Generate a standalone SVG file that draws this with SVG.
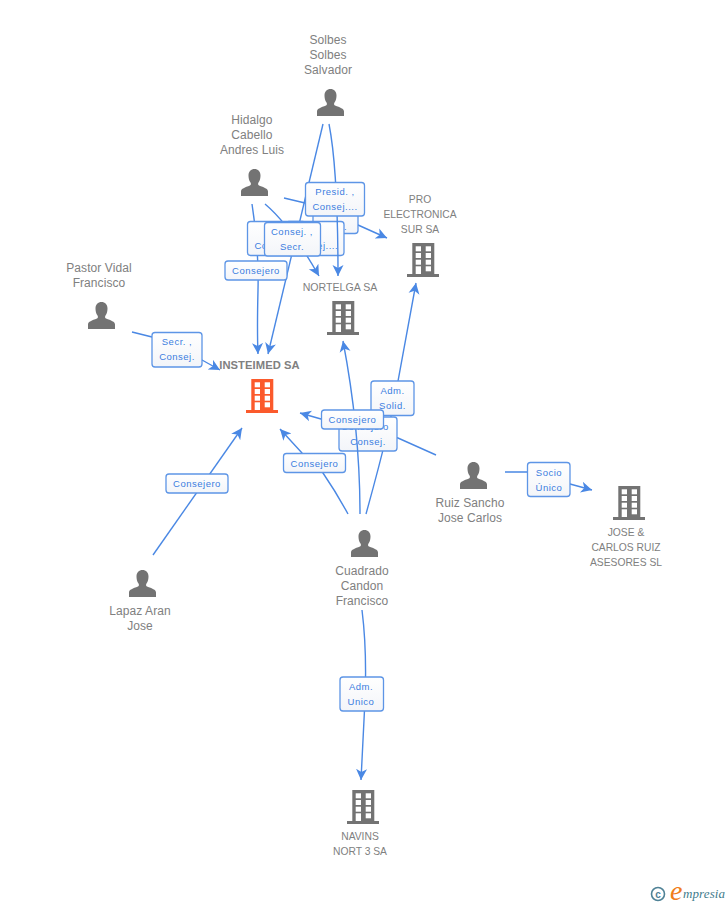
<svg xmlns="http://www.w3.org/2000/svg" width="728" height="905" viewBox="0 0 728 905">
<style>
text{font-family:"Liberation Sans",Arial,sans-serif}
.n{font-size:12px;fill:#808080;text-anchor:middle;letter-spacing:.08px}
.c{font-size:10.3px;fill:#808080;text-anchor:middle}
.l{font-size:9.5px;fill:#3b7de0;text-anchor:middle;letter-spacing:.5px}
.b{fill:url(#lg);stroke:#5d95e6;stroke-width:1.3}
.e{fill:none;stroke:#4a88e4;stroke-width:1.4;marker-end:url(#a)}
.g{fill:#737373}
.o{fill:#fb5a2c}
</style>
<defs>
<linearGradient id="lg" x1="0" y1="0" x2="0" y2="1"><stop offset="0" stop-color="#fff"/><stop offset="1" stop-color="#f3f5f9"/></linearGradient>
<marker id="a" markerUnits="userSpaceOnUse" markerWidth="14" markerHeight="14" refX="11" refY="6" orient="auto"><path d="M11,6 L0,0.500 L3,6 L0,11.500 Z" fill="#4a88e4"/></marker>
<symbol id="p" width="27" height="27" viewBox="0 0 27 27" overflow="visible"><path d="M0,27 V22.500 C0,19.500 4,18.500 9,16.500 C10.300,15.800 10,14.500 9.500,13.500 C8,11.500 7.500,9 7.500,6.500 C7.500,2.500 10,0 13.500,0 C17,0 19.500,2.500 19.500,6.500 C19.500,9 19,11.500 17.500,13.500 C17,14.500 16.700,15.800 18,16.500 C23,18.500 27,19.500 27,22.500 V27 Z"/></symbol>
<symbol id="h" width="32" height="34" viewBox="0 0 32 34" overflow="visible"><path d="M5.300,0 H27.300 V31 H32 V34 H0 V31 H5.300 Z"/><g fill="#fff"><rect x="8.700" y="3.300" width="5.300" height="5"/><rect x="18.700" y="3.300" width="5.300" height="5"/><rect x="8.700" y="10" width="5.300" height="5"/><rect x="18.700" y="10" width="5.300" height="5"/><rect x="8.700" y="16.700" width="5.300" height="5"/><rect x="18.700" y="16.700" width="5.300" height="5"/><rect x="8.700" y="23.300" width="5.300" height="7.700"/><rect x="18.700" y="23.300" width="5.300" height="5"/></g></symbol>
</defs>
<rect width="728" height="905" fill="#fff"/>
<g id="connectors">
<path class="e" d="M323,124 L268,354"/>
<path class="e" d="M284,198 L305,203 L358,225 L387,238"/>
<g><rect class="b" x="313" y="200" width="45" height="33.500" rx="3"/><text class="l" x="335" y="230">Secr.</text></g>
<path class="e" d="M252,204 Q259,250 258,290 T258,354"/>
<path class="e" d="M265,204 Q290,225 319,276"/>
<g><rect class="b" x="247.500" y="221.500" width="58" height="34" rx="3"/><text class="l" x="277" y="249">Consej....</text></g>
<g><rect class="b" x="286" y="221.500" width="58" height="34" rx="3"/><text class="l" x="315.500" y="249">Consej....</text></g>
<path class="e" d="M329,124 Q338,170 338,276"/>
<g><rect class="b" x="305.500" y="182.500" width="59" height="33.500" rx="3"/><text class="l" x="335" y="195">Presid. ,</text><text class="l" x="335" y="210">Consej....</text></g>
<g><rect class="b" x="264.500" y="222.500" width="56" height="33.500" rx="3"/><text class="l" x="292" y="235">Consej. ,</text><text class="l" x="292" y="250">Secr.</text></g>
<g><rect class="b" x="225" y="261" width="62" height="19" rx="3"/><text class="l" x="256" y="274">Consejero</text></g>
<path class="e" d="M132,332 L152,337 L202,360 L220,370"/>
<g><rect class="b" x="152" y="332.500" width="50" height="34.500" rx="3"/><text class="l" x="177" y="345">Secr. ,</text><text class="l" x="177" y="360">Consej.</text></g>
<path class="e" d="M366,514 Q392,420 398,381 L416,283"/>
<path class="e" d="M436,455 L398,438 L321,419 L300,413"/>
<g><rect class="b" x="371" y="381" width="43" height="34.500" rx="3"/><text class="l" x="392.500" y="394">Adm.</text><text class="l" x="392.500" y="409">Solid.</text></g>
<g><rect class="b" x="339" y="417" width="58" height="34" rx="3"/><text class="l" x="365" y="430">Consejero</text><text class="l" x="368" y="445">Consej.</text></g>
<path class="e" d="M360,514 Q360,430 343,341"/>
<g><rect class="b" x="321.500" y="410" width="62" height="19" rx="3"/><text class="l" x="352.500" y="423">Consejero</text></g>
<path class="e" d="M348,514 Q336,492 323,473 L302,453 L280,429"/>
<g><rect class="b" x="283.500" y="453.500" width="62" height="19" rx="3"/><text class="l" x="314.500" y="467">Consejero</text></g>
<path class="e" d="M153,555 L242,428"/>
<g><rect class="b" x="166" y="474" width="62" height="19" rx="3"/><text class="l" x="197" y="487">Consejero</text></g>
<path class="e" d="M362,610 Q367,650 365,700 L361,780"/>
<g><rect class="b" x="340" y="677" width="43.500" height="34" rx="3"/><text class="l" x="361" y="690">Adm.</text><text class="l" x="361" y="705">Unico</text></g>
<path class="e" d="M505,472 H528 L570,484 L592,490"/>
<g><rect class="b" x="527.500" y="462.500" width="42.500" height="34" rx="3"/><text class="l" x="549" y="476">Socio</text><text class="l" x="549" y="491">Único</text></g>
</g>
<g id="n-solbes"><text class="n" x="328" y="44">Solbes</text><text class="n" x="328" y="59">Solbes</text><text class="n" x="328" y="74">Salvador</text><use href="#p" class="g" x="317" y="89"/></g>
<g id="n-hidalgo"><text class="n" x="252" y="124">Hidalgo</text><text class="n" x="252" y="139">Cabello</text><text class="n" x="252" y="154">Andres Luis</text><use href="#p" class="g" x="241" y="169"/></g>
<g id="n-pastor"><text class="n" x="99" y="272">Pastor Vidal</text><text class="n" x="99" y="287">Francisco</text><use href="#p" class="g" x="88" y="302"/></g>
<g id="n-pro"><text class="c" x="420" y="203">PRO</text><text class="c" x="420" y="218">ELECTRONICA</text><text class="c" x="420" y="233">SUR SA</text><use href="#h" class="g" x="407" y="243"/></g>
<g id="n-nortelga"><text class="c" x="340" y="291" style="font-size:10.600px">NORTELGA SA</text><use href="#h" class="g" x="327" y="301"/></g>
<g id="n-insteimed"><text class="n" x="259.500" y="369" font-weight="bold" style="font-size:11.200px">INSTEIMED SA</text><use href="#h" class="o" x="246" y="379"/></g>
<g id="n-ruiz"><text class="n" x="470" y="507">Ruiz Sancho</text><text class="n" x="470" y="522">Jose Carlos</text><use href="#p" class="g" x="460" y="462"/></g>
<g id="n-jose"><text class="c" x="626" y="536">JOSE &amp;</text><text class="c" x="626" y="551">CARLOS RUIZ</text><text class="c" x="626" y="566">ASESORES SL</text><use href="#h" class="g" x="613" y="486"/></g>
<g id="n-cuadrado"><text class="n" x="362" y="575">Cuadrado</text><text class="n" x="362" y="590">Candon</text><text class="n" x="362" y="605">Francisco</text><use href="#p" class="g" x="351" y="530"/></g>
<g id="n-lapaz"><text class="n" x="140" y="615">Lapaz Aran</text><text class="n" x="140" y="630">Jose</text><use href="#p" class="g" x="129" y="570"/></g>
<g id="n-navins"><text class="c" x="360" y="840">NAVINS</text><text class="c" x="360" y="855">NORT 3 SA</text><use href="#h" class="g" x="347" y="790"/></g>
<g id="logo"><circle cx="658" cy="894" r="6.500" fill="none" stroke="#4f8296" stroke-width="1.600"/><text x="658" y="897.500" font-size="10" fill="#4f8296" text-anchor="middle" font-weight="bold">c</text><text x="670" y="900" font-size="28" font-style="italic" fill="#f07d1a" style="font-family:'Liberation Serif',serif">e</text><text x="683" y="898" font-size="13" font-style="italic" fill="#3f7c8c" textLength="42" style="font-family:'Liberation Serif',serif">mpresia</text></g>
</svg>
